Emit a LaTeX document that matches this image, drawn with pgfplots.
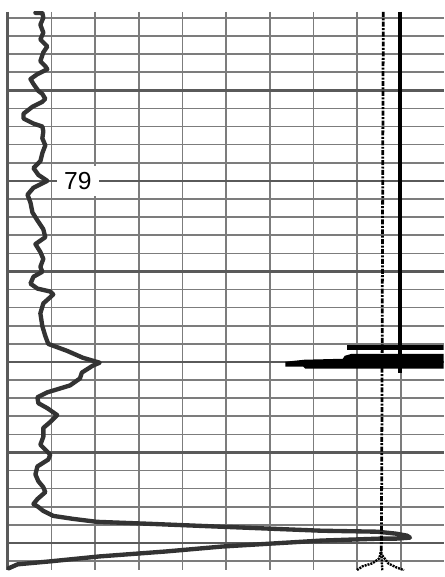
\documentclass[border=0pt]{standalone}
\usepackage{pgfplots}
\pgfplotsset{compat=1.18}
\usepackage{fontspec}
\setmainfont{Liberation Sans}
\definecolor{gridc}{HTML}{7C7C7C}
\definecolor{gridmajc}{HTML}{5A5A5A}
\definecolor{curvec}{HTML}{333333}
\begin{document}
\begin{tikzpicture}
\begin{axis}[
  scale only axis, width=442bp, height=565bp,
  xmin=6, xmax=448, ymin=12, ymax=577, y dir=reverse,
  axis line style={draw=none}, tick style={draw=none},
  xticklabels={}, yticklabels={},
  xtick={51.2,95.4,139.6,183.8,228,272.2,316.4,360.6,404.8},
  ytick={18.1,36.4,54.7,73.0,109.7,128.0,146.4,164.7,201.3,219.6,238.0,256.3,292.9,311.2,329.6,347.9,384.5,402.8,421.2,439.5,476.1,494.4,512.8,531.1,567.7},
  grid=major, major grid style={draw=gridc, line width=1.6bp},
  extra y ticks={91.4,183,274.6,366.2,457.8,549.4},
  extra y tick labels={},
  extra y tick style={major grid style={draw=gridmajc, line width=2.6bp}},
  extra x ticks={7}, extra x tick labels={},
  extra x tick style={major grid style={draw=gridmajc, line width=3bp}},
]
% label on depth line
\node[fill=white, inner sep=0pt, minimum width=43bp, minimum height=31bp,
  font=\fontsize{25}{25}\selectfont] at (axis cs:78,183) {79};
% gamma-ray style curve
\addplot[curvec, line width=4.4bp, line join=round, line cap=round] coordinates {
(35,13)(42,13)(43,18)(40,25)(43,33)(40,40)(47,47)(43,53)(40,62)(45,67)(47,70)
(37,75)(30,80)(33,85)(38,92)(42,95)(45,100)(42,103)(32,108)(23,115)(23,120)
(33,125)(42,128)(43,133)(42,140)(45,147)(42,155)(40,163)(33,170)(38,177)(47,183)
(33,190)(27,197)(30,205)(32,215)(37,223)(43,232)(45,240)(35,247)(40,255)(43,262)
(40,270)(42,275)(33,280)(30,287)(37,292)(50,295)(53,298)(43,307)(40,317)(42,330)
(45,340)(48,348)(67,355)(83,362)(100,367)(93,370)(82,377)(80,383)(70,390)(47,397)
(37,402)(38,408)(47,413)(57,420)(50,427)(43,433)(43,442)(40,450)(50,460)(48,465)
(37,472)(35,480)(38,487)(43,493)(45,498)(37,505)(33,510)(38,513)(43,517)(53,522)
(73,525)(97,528)(150,530)(224,533)(274,535)(324,537)(381,538)(400,540)(411,542)
(414,544)(400,545)(384,545)(324,547)(274,550)(224,553)(167,558)(100,563)(50,568)
(17,571)(8,575)
};
% dash-dot curve
\addplot[black, line width=2.8bp, dash pattern=on 5bp off 1.5bp on 2bp off 1.5bp] coordinates {
(387,12)(386.5,150)(386,300)(385.5,450)(385,560)
};
\addplot[black, line width=2.4bp, dash pattern=on 2bp off 1bp] coordinates {(385,556)(383,565)(376,570)(366,573)(360,577)};
\addplot[black, line width=2.4bp, dash pattern=on 2bp off 1bp] coordinates {(386,562)(392,570)(400,574)(408,577)};
\addplot[black, line width=2.4bp, dash pattern=on 2bp off 1bp] coordinates {(385,560)(386,577)};
% solid curve
\addplot[black, line width=4bp] coordinates {(404,12)(404,377)};
% bars
\addplot[black, fill=black, draw=none] coordinates {(350,349.5)(448,349.5)(448,354)(350,354)} -- cycle;
\addplot[black, fill=black, draw=none] coordinates {
(288,366)(307,364)(346,363)(348,360)(355,358)(448,358)(448,373)(308,373)(306,371)(288,371)} -- cycle;
\end{axis}
\path (current axis.north west) ++(-6bp,12bp);
\end{tikzpicture}
\end{document}
